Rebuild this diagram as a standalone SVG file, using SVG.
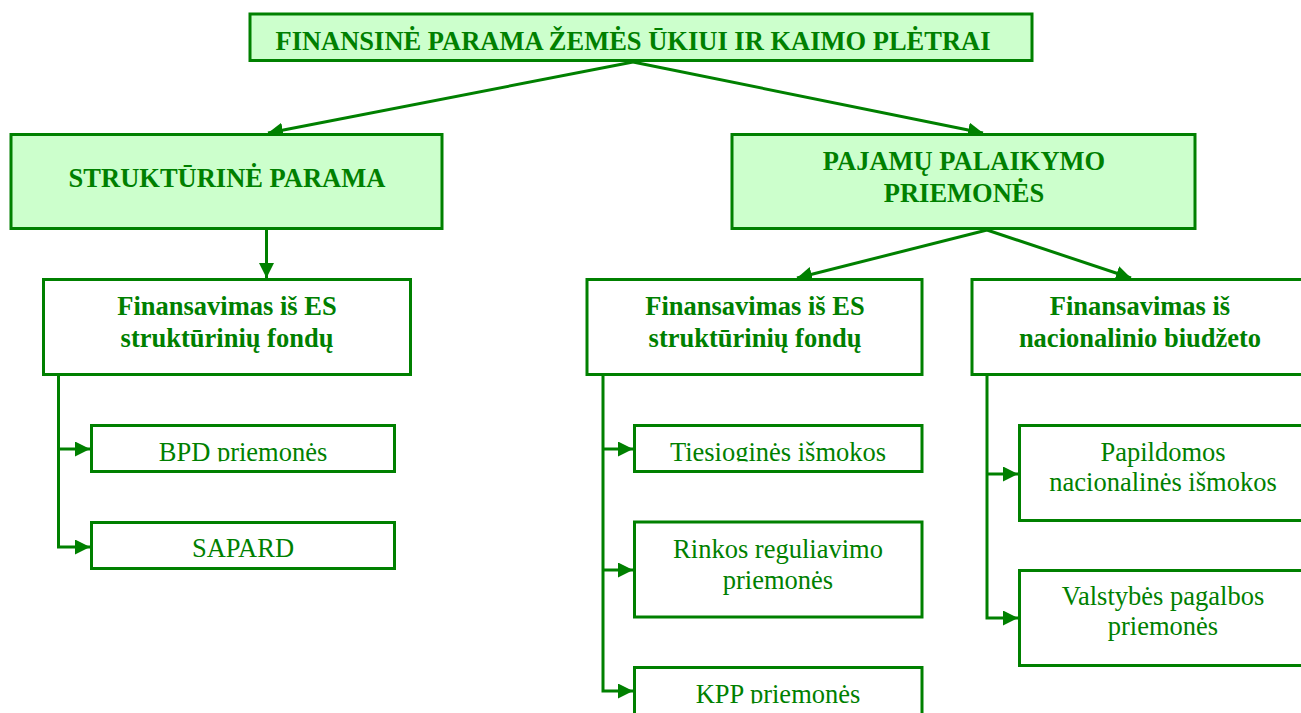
<svg xmlns="http://www.w3.org/2000/svg" width="1301" height="713" viewBox="0 0 1301 713">
<style>
.box{fill:#ffffff;stroke:#008000;stroke-width:3}
.hbox{fill:#ccffcc;stroke:#008000;stroke-width:3}
.b{font-family:"Liberation Serif","Times New Roman",serif;font-weight:bold;font-size:26.5px;fill:#008000;text-anchor:middle}
.r{font-family:"Liberation Serif","Times New Roman",serif;font-size:26.5px;fill:#008000;text-anchor:middle}
.c{fill:none;stroke:#008000;stroke-width:3}
</style>
<defs>
<marker id="ah" markerUnits="userSpaceOnUse" markerWidth="16" markerHeight="16" refX="15" refY="7.5" orient="auto">
<path d="M0,0 L15,7.5 L0,15 z" fill="#008000"/>
</marker>
<clipPath id="cBPD"><rect x="90" y="424" width="306" height="37.5"/></clipPath>
<clipPath id="cTie"><rect x="633" y="424" width="291" height="37.5"/></clipPath>
<clipPath id="cKPP"><rect x="633" y="666" width="291" height="37.5"/></clipPath>
</defs>
<g id="connectors">
<line class="c" x1="633" y1="62" x2="268" y2="133" marker-end="url(#ah)"/>
<line class="c" x1="633" y1="62" x2="983" y2="133" marker-end="url(#ah)"/>
<line class="c" x1="266.5" y1="229" x2="266.5" y2="278" marker-end="url(#ah)"/>
<line class="c" x1="987" y1="230" x2="797" y2="278" marker-end="url(#ah)"/>
<line class="c" x1="987" y1="230" x2="1131" y2="278" marker-end="url(#ah)"/>
<polyline class="c" points="58.5,376 58.5,547 90,547" marker-end="url(#ah)"/>
<line class="c" x1="58.5" y1="449" x2="90" y2="449" marker-end="url(#ah)"/>
<polyline class="c" points="603,376 603,691 633,691" marker-end="url(#ah)"/>
<line class="c" x1="603" y1="449" x2="633" y2="449" marker-end="url(#ah)"/>
<line class="c" x1="603" y1="570" x2="633" y2="570" marker-end="url(#ah)"/>
<polyline class="c" points="987,376 987,618 1018,618" marker-end="url(#ah)"/>
<line class="c" x1="987" y1="474" x2="1018" y2="474" marker-end="url(#ah)"/>
</g>
<g id="title">
<rect class="hbox" x="250" y="14" width="782" height="46.5"/>
<text class="b" x="633" y="50">FINANSINĖ PARAMA ŽEMĖS ŪKIUI IR KAIMO PLĖTRAI</text>
</g>
<g id="struct">
<rect class="hbox" x="11" y="134.5" width="431" height="94"/>
<text class="b" x="227" y="187">STRUKTŪRINĖ PARAMA</text>
</g>
<g id="pajamu">
<rect class="hbox" x="732" y="134.5" width="463" height="94"/>
<text class="b" x="964" y="170">PAJAMŲ PALAIKYMO</text>
<text class="b" x="964" y="201.5">PRIEMONĖS</text>
</g>
<g id="finES1">
<rect class="box" x="43.5" y="279.5" width="367" height="95"/>
<text class="b" x="227" y="315">Finansavimas iš ES</text>
<text class="b" x="227" y="347">struktūrinių fondų</text>
</g>
<g id="finES2">
<rect class="box" x="587" y="279.5" width="335" height="95"/>
<text class="b" x="755" y="315">Finansavimas iš ES</text>
<text class="b" x="755" y="347">struktūrinių fondų</text>
</g>
<g id="finNat">
<rect class="box" x="972" y="279.5" width="340" height="95"/>
<text class="b" x="1140" y="315">Finansavimas iš</text>
<text class="b" x="1140" y="347">nacionalinio biudžeto</text>
</g>
<g id="bpd">
<rect class="box" x="91.5" y="425.5" width="303" height="46"/>
<text class="r" x="243" y="461" clip-path="url(#cBPD)">BPD priemonės</text>
</g>
<g id="sapard">
<rect class="box" x="91.5" y="522.5" width="303" height="46"/>
<text class="r" x="243" y="557">SAPARD</text>
</g>
<g id="tiesiogines">
<rect class="box" x="634.5" y="425.5" width="287.5" height="46"/>
<text class="r" x="778" y="461" clip-path="url(#cTie)">Tiesioginės išmokos</text>
</g>
<g id="rinkos">
<rect class="box" x="634.5" y="522" width="287.5" height="95"/>
<text class="r" x="778" y="558">Rinkos reguliavimo</text>
<text class="r" x="778" y="588.5">priemonės</text>
</g>
<g id="kpp">
<rect class="box" x="634.5" y="667.5" width="287.5" height="60"/>
<text class="r" x="778" y="703" clip-path="url(#cKPP)">KPP priemonės</text>
</g>
<g id="papildomos">
<rect class="box" x="1019.5" y="425.5" width="300" height="95"/>
<text class="r" x="1163" y="461">Papildomos</text>
<text class="r" x="1163" y="491">nacionalinės išmokos</text>
</g>
<g id="valstybes">
<rect class="box" x="1019.5" y="570.5" width="300" height="95"/>
<text class="r" x="1163" y="605">Valstybės pagalbos</text>
<text class="r" x="1163" y="635">priemonės</text>
</g>
</svg>
